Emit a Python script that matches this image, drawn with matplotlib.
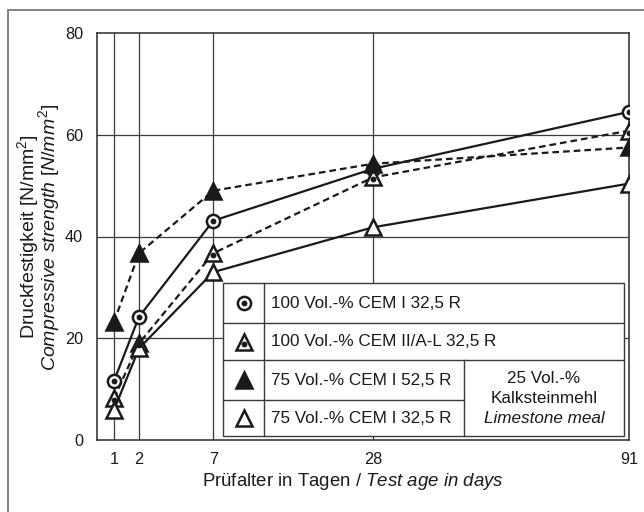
import matplotlib.pyplot as plt
import numpy as np
from matplotlib.patches import Rectangle
from matplotlib.lines import Line2D
from matplotlib.transforms import ScaledTranslation

plt.rcParams['font.family'] = ['Liberation Sans', 'DejaVu Sans']
plt.rcParams['mathtext.fontset'] = 'custom'
plt.rcParams['mathtext.rm'] = 'Liberation Sans'
plt.rcParams['mathtext.it'] = 'Liberation Sans:italic'

# Prüfalter in Tagen
tage = [1, 2, 7, 28, 91]

# Druckfestigkeit in N/mm2
cem1_325_100 = [11.6, 24.2, 43.1, 53.3, 64.5]
cem2_al_100 = [8.2, 19.0, 36.7, 51.6, 60.8]
cem1_525_75 = [23.2, 36.7, 49.0, 54.3, 57.5]
cem1_325_75 = [5.9, 18.0, 33.0, 41.8, 50.4]

labels = ['100 Vol.-% CEM I 32,5 R',
          '100 Vol.-% CEM II/A-L 32,5 R',
          '75 Vol.-% CEM I 52,5 R',
          '75 Vol.-% CEM I 32,5 R']

ink = '#1a1a1a'
grid_c = '#3a3a3a'
fs_leg = 12.3

# Stil je Reihe: Marker, Füllung, Linie, Punkt in der Mitte
styles = [
    dict(marker='o', ms=9.5, mfc='white', ls='-', dot=True),
    dict(marker='^', ms=12, mfc='white', ls='--', dot=True),
    dict(marker='^', ms=12, mfc=ink, ls='--', dot=False),
    dict(marker='^', ms=12, mfc='white', ls='-', dot=False),
]
reihen = [cem1_325_100, cem2_al_100, cem1_525_75, cem1_325_75]

fig = plt.figure(figsize=(6.44, 5.12), dpi=100)
ax = fig.add_axes([97/644, 1-440/512, 532/644, 407/512])

# Rahmen um die ganze Grafik
fig.patches.append(Rectangle((8/644, -0.2), 1.3, 1.2 - 10/512, transform=fig.transFigure,
                             fill=False, edgecolor='#777777', lw=1.3))

def sqrt_fwd(x):
    return np.sqrt(np.clip(x, 0, None))

def sqrt_inv(x):
    return np.square(x)

ax.set_xscale('function', functions=(sqrt_fwd, sqrt_inv))
ax.set_xlim(0.516, 91)
ax.set_ylim(0, 80)

for xv in [1, 2, 7, 28]:
    ax.axvline(xv, color=grid_c, lw=0.9, zorder=1)
for yv in [20, 40, 60]:
    ax.axhline(yv, color=grid_c, lw=0.9, zorder=1)

def draw_series(x, y, st, transform=None, line=True, z=3):
    base = ax.transData if transform is None else transform
    kw = dict(transform=base)
    if transform is not None:
        kw['clip_on'] = False
    ls = st['ls'] if line else 'none'
    l, = ax.plot(x, y, ls=ls, color=ink, lw=1.6, marker=st['marker'],
                 ms=st['ms'], mfc=st['mfc'], mec=ink, mew=1.8, zorder=z, **kw)
    if st['ls'] == '--' and line:
        l.set_dashes([3, 1.8])
    if st['dot']:
        # Punkt im Dreieck sitzt etwas tiefer
        dy = -0.02 if st['marker'] == '^' else 0
        kw['transform'] = base + ScaledTranslation(0, dy, fig.dpi_scale_trans)
        ax.plot(x, y, ls='none', marker='o', ms=3.2, color=ink, zorder=z + 0.1, **kw)

for y, st in zip(reihen, styles):
    draw_series(tage, y, st)

# Legende als Tabelle
bx0, bx1, by0, by1 = 0.2368, 0.9906, 0.0098, 0.3857
col = 0.3139
rows = [0.2875, 0.1966, 0.0983]
split = 0.6898
ax.add_patch(Rectangle((bx0, by0), bx1 - bx0, by1 - by0, transform=ax.transAxes,
                       facecolor='white', edgecolor=grid_c, lw=1.0, zorder=5))
lkw = dict(transform=ax.transAxes, color=grid_c, lw=1.0, zorder=6)
ax.add_line(Line2D([col, col], [by0, by1], **lkw))
ax.add_line(Line2D([bx0, bx1], [rows[0], rows[0]], **lkw))
ax.add_line(Line2D([bx0, bx1], [rows[1], rows[1]], **lkw))
ax.add_line(Line2D([bx0, split], [rows[2], rows[2]], **lkw))
ax.add_line(Line2D([split, split], [by0, rows[1]], **lkw))

row_c = [0.3366, 0.242, 0.1474, 0.054]
for yc, st, lab in zip(row_c, styles, labels):
    draw_series([0.2754], [yc], st, transform=ax.transAxes, line=False, z=7)
    ax.text(0.327, yc, lab, transform=ax.transAxes, ha='left', va='center',
            fontsize=fs_leg, color=ink, zorder=7)

cx = (split + bx1) / 2
ax.text(cx, 0.150, '25 Vol.-%', transform=ax.transAxes, ha='center', va='center',
        fontsize=fs_leg, color=ink, zorder=7)
ax.text(cx, 0.101, 'Kalksteinmehl', transform=ax.transAxes, ha='center', va='center',
        fontsize=fs_leg, color=ink, zorder=7)
ax.text(cx, 0.053, 'Limestone meal', transform=ax.transAxes, ha='center', va='center',
        fontsize=fs_leg, color=ink, style='italic', zorder=7)

ax.set_xticks(tage)
ax.set_xticklabels([str(t) for t in tage])
ax.set_yticks([0, 20, 40, 60, 80])
ax.tick_params(axis='both', length=0, labelsize=11.7, colors=ink)
ax.tick_params(axis='x', pad=9)
ax.tick_params(axis='y', pad=10)
ax.xaxis.set_minor_locator(plt.NullLocator())
for sp in ax.spines.values():
    sp.set_color(grid_c)
    sp.set_linewidth(1.2)

fig.text(353/644, 1 - 486/512, r'Prüfalter in Tagen / $\it{Test\ age\ in\ days}$',
         ha='center', va='baseline', fontsize=13.4, color=ink)
# zweizeilige y-Beschriftung, deutsch oben, englisch kursiv darunter
ylab = (r'Druckfestigkeit [N/mm$^\mathrm{2}$]' + '\n'
        + r'$\it{Compressive\ strength\ [N/mm^2]}$')
fig.text(38.5/644, 1 - 237/512, ylab, rotation=90, ha='center', va='center',
         multialignment='center', linespacing=0.72, fontsize=14, color=ink)

fig.savefig('out.png', dpi=100)
